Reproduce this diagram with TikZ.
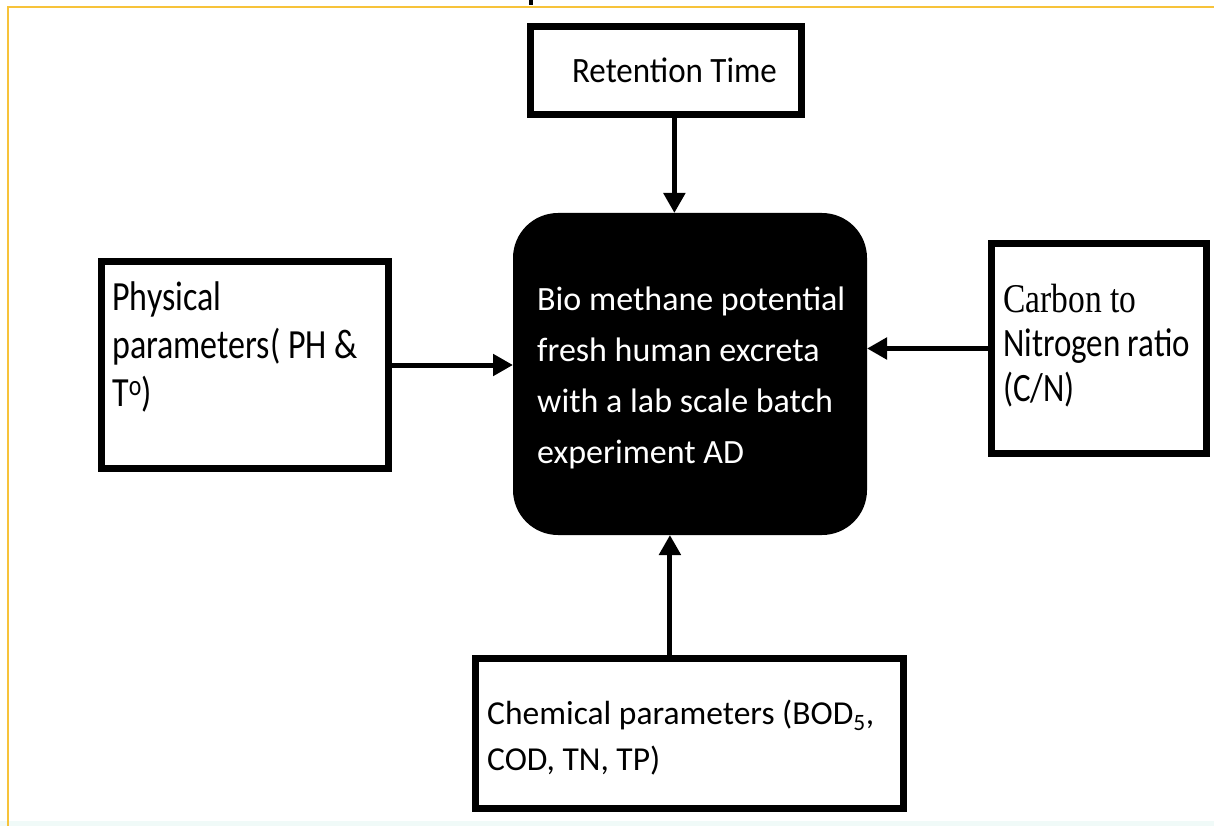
\documentclass[tikz,border=0pt]{standalone}
\usepackage{fontspec}
\setmainfont{Carlito}
\newfontfamily\serifx{Liberation Serif}
\usetikzlibrary{arrows.meta}
\definecolor{yel}{RGB}{247,195,58}
\definecolor{strip}{RGB}{240,250,248}
\tikzset{
  frame/.style={draw=black, line width=7pt, fill=white, inner sep=0pt},
  arr/.style={line width=5pt, -{Triangle[length=20pt,width=21pt]}},
  txt/.style={inner sep=0pt, anchor=base west, align=left},
}
\begin{document}
\begin{tikzpicture}[x=1pt,y=-1pt]
\useasboundingbox (0,0) rectangle (1214,826);
\fill[white] (0,0) rectangle (1214,826);
\fill[strip] (0,821) rectangle (1214,826);
\draw[yel, line width=2.5pt] (1214,7) -- (8,7) -- (8,826);
\fill[black] (529,0) rectangle (533,5);

% boxes
\node[frame, minimum width=271pt, minimum height=88pt] (ret) at (666,70.5) {};
\node[frame, minimum width=287pt, minimum height=207pt] (phys) at (245,365) {};
\node[frame, minimum width=215pt, minimum height=210pt] (carb) at (1099,348.5) {};
\node[frame, minimum width=428pt, minimum height=150pt] (chem) at (689.5,733.5) {};
\node[fill=black, rounded corners=45pt, minimum width=354pt, minimum height=322pt, inner sep=0pt, outer sep=0pt] (bio) at (690,374) {};

% texts
\node[inner sep=0pt, anchor=base] (retT) at (674.5,83) {\scalebox{1}[1.08]{\fontsize{33}{40}\selectfont Retention Time}};
\node[txt] (physT) at (112,310) {\scalebox{1}[1.22]{\fontsize{34}{39.5}\selectfont\begin{tabular}[t]{@{}l@{}}Physical\\ parameters( PH \&\\ T\textsuperscript{o})\end{tabular}}};
\node[txt, text=white] (bioT) at (537,310) {\fontsize{34}{51}\selectfont\begin{tabular}[t]{@{}l@{}}Bio methane potential\\ fresh human excreta\\ with a lab scale batch\\ experiment AD\end{tabular}};
\node[txt] (carbT) at (1003,312) {\scalebox{1}[1.22]{\fontsize{33}{36.5}\selectfont\begin{tabular}[t]{@{}l@{}}{\serifx\fontsize{33.5}{36.5}\selectfont Carbon to}\\ Nitrogen ratio\\ (C/N)\end{tabular}}};
\node[txt] (chemT) at (487,724) {\fontsize{33.5}{46}\selectfont\begin{tabular}[t]{@{}l@{}}Chemical parameters (BOD\textsubscript{5},\\ COD, TN, TP)\end{tabular}};

% connectors
\draw[arr] (ret.-80) -- (ret.-80 |- bio.north);
\draw[arr] (phys.east) -- (phys.east -| bio.west);
\draw[arr] (carb.west) -- (carb.west -| bio.east);
\draw[arr] (chem.104) -- (chem.104 |- bio.south);
\end{tikzpicture}
\end{document}
